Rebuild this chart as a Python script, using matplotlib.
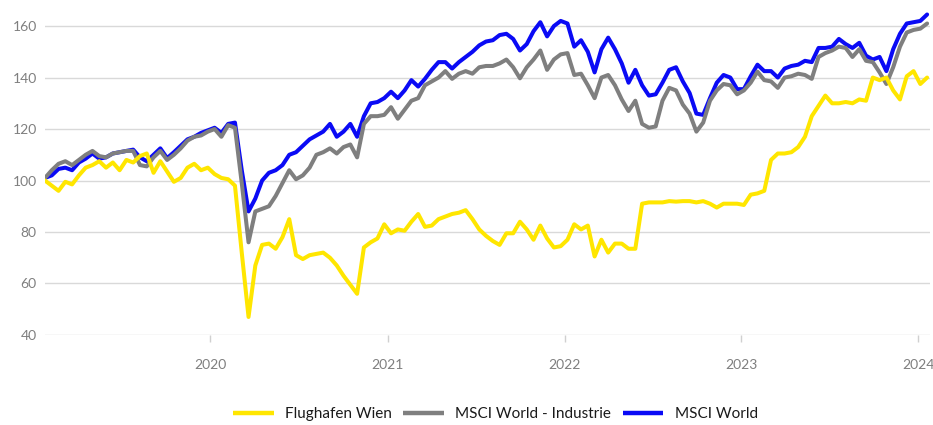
import matplotlib
matplotlib.use("Agg")
import matplotlib.pyplot as plt
import pandas as pd

plt.rcParams['font.family'] = ['Lato', 'DejaVu Sans']

start_date = "2019-01-25"
n_points = 131

flughafen_wien = [
    100, 98, 96, 99.5, 98.5, 102, 105, 106, 107.5, 105,
    107, 104, 108, 107, 109.5, 110.5, 103, 107.5, 103.5, 99.5,
    101, 105, 106.5, 104, 105, 102.5, 101, 100.5, 98, 72,
    47, 67, 75, 75.5, 73.5, 78, 85, 71, 69.5, 71,
    71.5, 72, 70, 67, 63, 59.5, 56, 74, 76, 77.5,
    83, 79.5, 81, 80.5, 84, 87, 82, 82.5, 85, 86,
    87, 87.5, 88.5, 85, 81, 78.5, 76.5, 75, 79.5, 79.5,
    84, 81, 77, 82.5, 77.5, 74, 74.5, 77, 83, 81,
    82.5, 70.5, 77, 72, 75.5, 75.5, 73.5, 73.5, 91, 91.5,
    91.5, 91.5, 92, 91.8, 92, 92, 91.5, 92, 91, 89.5,
    91, 91, 91, 90.5, 94.5, 95, 96, 108, 110.5, 110.5,
    111, 113, 117, 125, 129, 133, 130, 130, 130.5, 130,
    131.5, 131, 140, 139, 140, 135, 131.5, 140.5, 142.5, 137.5,
    140,
]

msci_industrie = [
    101, 104, 106.5, 107.5, 106, 108, 110, 111.5, 109.5, 109,
    110.5, 111, 111.5, 111.5, 106, 105.5, 109, 111.5, 108, 110,
    112.5, 115.5, 117, 117.5, 119, 120, 117, 121.5, 120.5, 99,
    76, 88, 89, 90, 94, 99, 104, 100.5, 102, 105,
    110, 111, 112.5, 110.5, 113, 114, 109, 122, 125, 125,
    125.5, 128.5, 124, 127.5, 131, 132, 137, 138.5, 140, 142.5,
    139.5, 141.5, 142.5, 141.5, 144, 144.5, 144.5, 145.5, 147, 144,
    139.7, 144, 147, 150.5, 143, 147, 149, 149.5, 141, 141.5,
    137, 132, 140, 141, 137, 131.5, 127, 131, 122, 120.5,
    121, 131, 136, 135, 129.5, 126, 119, 122.5, 131, 135,
    137.5, 137, 133.5, 135, 138, 142.3, 139, 138.5, 136, 140,
    140.5, 141.5, 141, 139.5, 148, 149.5, 150.5, 152, 151.5, 148,
    151, 146.5, 146, 142, 137.5, 144, 152, 157.5, 158.5, 159,
    161,
]

msci_world = [
    101, 102, 104.5, 105, 104, 107, 108.5, 110.5, 108.5, 109,
    110.5, 111, 111.5, 112, 109, 107.5, 110, 112.5, 108.7, 111,
    113.5, 116, 117, 118.5, 119.5, 120.5, 118.5, 122, 122.5, 104,
    88, 93, 100, 103, 104, 106, 110, 111, 113.5, 116,
    117.5, 119, 122, 117, 119, 122, 117, 125, 130, 130.5,
    132, 134.5, 132, 135, 139, 136.5, 139.5, 143, 146, 146,
    143.5, 146, 148, 150, 152.5, 154, 154.5, 156.5, 157, 155,
    150.5, 153, 158, 161.5, 156, 160, 162, 161, 152, 154.5,
    150, 142, 151, 155.5, 151, 145.5, 138, 143, 137, 133,
    133.5, 138, 143, 144, 138.5, 134, 126, 125.5, 132, 138,
    141, 140, 135.5, 135.5, 140.5, 145, 142.5, 142.5, 140, 143.5,
    144.5, 145, 146.5, 146, 151.5, 151.5, 152, 155, 153, 151.5,
    153.5, 148.5, 147, 148, 142.5, 151, 157, 161, 161.5, 162,
    164.5,
]

series_names = ["Flughafen Wien", "MSCI World - Industrie", "MSCI World"]
series_colors = ["#FFE600", "#7F7F7F", "#0A0AF5"]
y_ticks = [40, 60, 80, 100, 120, 140, 160]
x_tick_years = ["2020", "2021", "2022", "2023", "2024"]

dates = pd.date_range(start_date, periods=n_points, freq="14D")

fig = plt.figure(figsize=(9.33, 4.25), dpi=100)
ax = fig.add_axes([0.0482, 0.2118, 0.9486, 0.7632])

series = [flughafen_wien, msci_industrie, msci_world]
lines = {}
# draw order: blue bottom, gray, yellow top
for idx in [2, 1, 0]:
    ln, = ax.plot(dates, series[idx], color=series_colors[idx], lw=2.9,
                  solid_joinstyle="round", solid_capstyle="round",
                  label=series_names[idx], zorder=3 + (2 - idx))
    lines[idx] = ln

ax.set_ylim(40, 166)
ax.set_xlim(pd.Timestamp("2019-01-25"), pd.Timestamp("2024-01-25"))
ax.set_yticks(y_ticks)
ax.set_xticks([pd.Timestamp(y + "-01-01") for y in x_tick_years])
ax.set_xticklabels(x_tick_years)

ax.grid(axis="y", color="#D9D9D9", lw=1.0, zorder=0)
for s in ax.spines.values():
    s.set_visible(False)

ax.tick_params(axis="y", length=0, labelsize=10, labelcolor="#7F7F7F", pad=6)
ax.tick_params(axis="x", length=5, width=1, color="#D0D0D0",
               labelsize=10, labelcolor="#7F7F7F", pad=12)

handles = [lines[0], lines[1], lines[2]]
leg = fig.legend(handles, series_names, loc="center", bbox_to_anchor=(0.531, 0.026),
                 ncol=3, frameon=False, fontsize=11, handlelength=2.65,
                 handletextpad=0.75, columnspacing=0.75)
for t in leg.get_texts():
    t.set_color("#1A1A1A")
for h in leg.legend_handles:
    h.set_linewidth(3.2)
    h.set_solid_capstyle("butt")

fig.savefig("out.png", dpi=100)
